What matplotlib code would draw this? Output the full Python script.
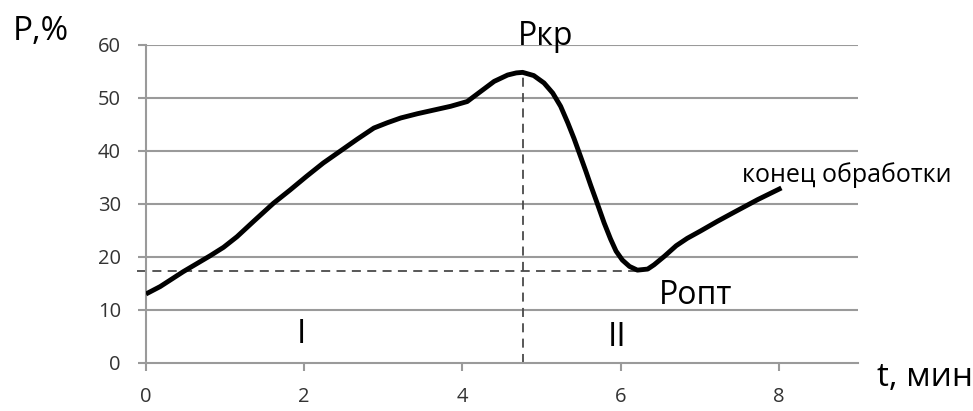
import matplotlib
matplotlib.use("Agg")
import matplotlib.pyplot as plt

plt.rcParams["font.family"] = ["Open Sans", "DejaVu Sans"]

# curve (t in minutes, P in %)
t_vals = [0.0, 0.18, 0.47, 0.64, 0.81, 0.98, 1.15, 1.36, 1.61, 1.82, 2.03,
          2.24, 2.46, 2.67, 2.88, 3.05, 3.22, 3.43, 3.64, 3.85, 4.06, 4.14,
          4.40, 4.57, 4.68, 4.76, 4.90, 5.03, 5.14, 5.24, 5.33, 5.41, 5.49,
          5.56, 5.62, 5.70, 5.79, 5.87, 5.94, 6.02, 6.11, 6.21, 6.34, 6.42,
          6.55, 6.70, 6.84, 7.01, 7.22, 7.43, 7.73, 8.03]
p_vals = [13.0, 14.4, 17.2, 18.7, 20.2, 21.8, 23.8, 26.7, 30.1, 32.6, 35.2,
          37.7, 40.0, 42.2, 44.3, 45.3, 46.2, 47.0, 47.7, 48.4, 49.3, 50.2,
          53.1, 54.3, 54.7, 54.8, 54.2, 52.8, 50.9, 48.4, 45.3, 42.3, 39.0,
          36.1, 33.5, 30.2, 26.4, 23.4, 21.1, 19.4, 18.2, 17.5, 17.7, 18.5,
          20.1, 22.1, 23.5, 24.9, 26.7, 28.4, 30.8, 33.0]

t_kr = 4.76
p_kr = 54.8
t_opt = 6.21
p_opt = 17.4

x_ticks = [0, 2, 4, 6, 8]
y_ticks = [0, 10, 20, 30, 40, 50, 60]

grid_col = "#9a9a9a"
dash_col = "#4a4a4a"

fig = plt.figure(figsize=(9.73, 4.11), dpi=100)
ax = fig.add_axes([0.150, 0.117, 0.732, 0.774])

ax.set_xlim(0, 9)
ax.set_ylim(0, 60)
ax.set_xticks(x_ticks)
ax.set_yticks(y_ticks)

for y in y_ticks[1:]:
    ax.axhline(y, color=grid_col, lw=1.5, zorder=1)

for s in ["top", "right"]:
    ax.spines[s].set_visible(False)
for s in ["left", "bottom"]:
    ax.spines[s].set_color(grid_col)
    ax.spines[s].set_linewidth(1.5)

ax.tick_params(axis="both", direction="out", length=6, width=1.5,
               color=grid_col, labelsize=14.5, labelcolor="#333333")
ax.tick_params(axis="x", pad=11)
ax.tick_params(axis="y", pad=12)

# dashed guides
ax.plot([t_kr, t_kr], [0, p_kr], ls=(0, (5, 3.5)), color=dash_col, lw=1.3, zorder=2)
ax.plot([-0.11, t_opt], [p_opt, p_opt], ls=(0, (5, 3.5)), color=dash_col, lw=1.3,
        zorder=2, clip_on=False)

ax.plot(t_vals, p_vals, color="black", lw=3.5, solid_joinstyle="round",
        solid_capstyle="butt", zorder=3)

ax.text(5.05, 60.0, "Ркр", fontsize=23, ha="center", va="baseline")
ax.text(7.53, 34.2, "конец обработки", fontsize=18, ha="left", va="baseline")
ax.text(6.48, 11.1, "Ропт", fontsize=23, ha="left", va="baseline")
ax.text(1.97, 3.8, "I", fontsize=24, ha="center", va="baseline")
ax.text(5.96, 3.2, "II", fontsize=24, ha="center", va="baseline")

fig.text(13 / 973, 1 - 40 / 411, "P,%", fontsize=24, ha="left", va="baseline")
fig.text(877 / 973, 1 - 386 / 411, "t, мин", fontsize=24, ha="left", va="baseline")

fig.savefig("out.png", dpi=100)
